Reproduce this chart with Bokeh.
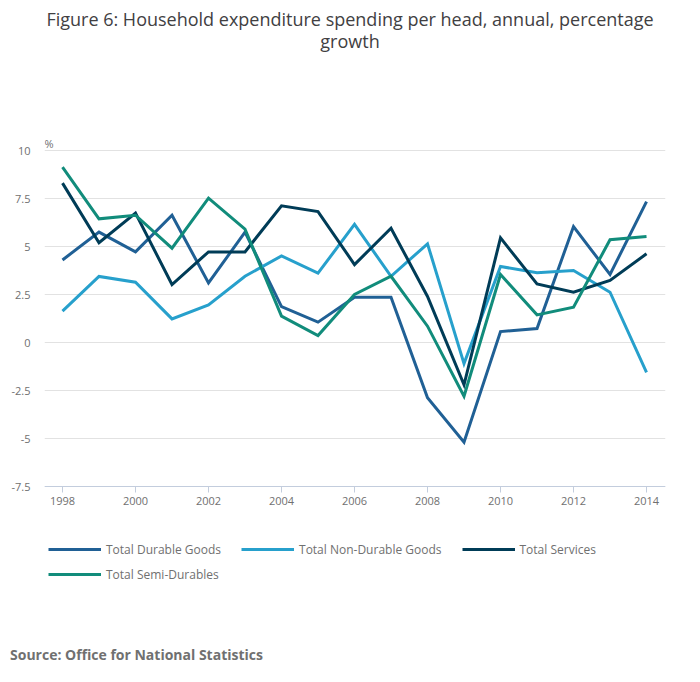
from bokeh.plotting import figure
from bokeh.models import (Range1d, FixedTicker, Legend, LegendItem, Label, Div)
from bokeh.layouts import column
from bokeh.embed import file_html
from bokeh.resources import INLINE

years = list(range(1998, 2015))
durable = [4.3, 5.75, 4.72, 6.63, 3.1, 5.75, 1.87, 1.06, 2.36, 2.36, -2.88, -5.19, 0.57, 0.73, 6.04, 3.54, 7.34]
non_durable = [1.63, 3.44, 3.14, 1.23, 1.96, 3.45, 4.51, 3.61, 6.15, 3.45, 5.14, -1.1, 3.96, 3.63, 3.75, 2.62, -1.55]
services = [8.3, 5.2, 6.74, 3.02, 4.72, 4.72, 7.12, 6.82, 4.06, 5.95, 2.4, -2.2, 5.45, 3.05, 2.62, 3.23, 4.62]
semi_durables = [9.13, 6.44, 6.63, 4.91, 7.52, 5.9, 1.37, 0.36, 2.5, 3.45, 0.85, -2.8, 3.54, 1.44, 1.84, 5.35, 5.52]

series_names = ["Total Durable Goods", "Total Non-Durable Goods", "Total Services", "Total Semi-Durables"]
series_colors = ["#206095", "#27a0cc", "#003c57", "#118c7b"]

x_ticks = [1998, 2000, 2002, 2004, 2006, 2008, 2010, 2012, 2014]
y_ticks = [-7.5, -5, -2.5, 0, 2.5, 5, 7.5, 10]
y_tick_labels = ["-7.5", "-5", "-2.5", "0", "2.5", "5", "7.5", "10"]

title_text = "Figure 6: Household expenditure spending per head, annual, percentage growth"
source_text = "Source: Office for National Statistics"
unit_text = "%"

FONT = "Open Sans"
GREY = "#707070"
W = 684

title_div = Div(text=title_text, width=W, height=132, margin=0,
                styles={"font-family": FONT, "font-size": "18px", "color": "#414042",
                        "text-align": "center", "line-height": "22px",
                        "padding-top": "8px", "padding-left": "40px", "padding-right": "24px",
                        "box-sizing": "border-box"})

# frame: page y 132..600, x 44..665 ; value 10 at y=150, -7.5 at y=486
Y_MIN = -7.5
Y_MAX = 10
p = figure(width=W, height=508, output_backend="svg", toolbar_location=None,
           x_range=Range1d(1997.507, 2014.52), y_range=Range1d(-13.4375, 10.9375),
           min_border_left=44, min_border_right=19, min_border_top=0, min_border_bottom=40)
p.outline_line_color = None
p.background_fill_color = "white"
p.border_fill_color = "white"

p.xgrid.visible = False
p.ygrid.grid_line_color = "#e2e2e2"
p.ygrid.grid_line_width = 1

p.yaxis.ticker = FixedTicker(ticks=y_ticks)
p.yaxis.major_label_overrides = {t: l for t, l in zip(y_ticks, y_tick_labels)}
p.yaxis.axis_line_color = None
p.yaxis.major_tick_line_color = None
p.yaxis.minor_tick_line_color = None
p.yaxis.major_tick_out = 0
p.yaxis.major_tick_in = 0
p.yaxis.major_label_standoff = 14
p.yaxis.major_label_text_font = FONT
p.yaxis.major_label_text_font_size = "11px"
p.yaxis.major_label_text_color = GREY

p.xaxis.ticker = FixedTicker(ticks=x_ticks)
p.xaxis.fixed_location = Y_MIN
p.xaxis.axis_line_color = "#c3cddd"
p.xaxis.major_tick_line_color = "#c3cddd"
p.xaxis.major_tick_in = 0
p.xaxis.major_tick_out = 6
p.xaxis.minor_tick_line_color = None
p.xaxis.major_label_standoff = 4
p.xaxis.major_label_text_font = FONT
p.xaxis.major_label_text_font_size = "11px"
p.xaxis.major_label_text_color = GREY

renderers = []
for vals, name, col in zip([durable, non_durable, services, semi_durables], series_names, series_colors):
    r = p.line(years, vals, line_color=col, line_width=3, line_join="miter")
    renderers.append(r)

def mk_legend(idx, loc):
    items = [LegendItem(label=series_names[i], renderers=[renderers[i]]) for i in idx]
    return Legend(items=items, location=loc, orientation="horizontal",
                  margin=0, padding=0, spacing=20, glyph_width=53, glyph_height=20,
                  label_height=20, label_standoff=5,
                  label_text_font=FONT, label_text_font_size="12px", label_text_color=GREY,
                  background_fill_alpha=0, border_line_color=None)

p.add_layout(mk_legend([0, 1, 2], (4, 41)))
p.add_layout(mk_legend([3], (4, 16)))

p.add_layout(Label(x=1997.507, y=Y_MAX, y_offset=7, text=unit_text,
                   text_align="left", text_baseline="middle", text_font=FONT,
                   text_font_size="11px", text_color=GREY))

source_div = Div(text=source_text, width=W, height=26, margin=0,
                 styles={"font-family": FONT, "font-size": "14px", "font-weight": "bold",
                         "color": GREY, "line-height": "18px", "padding-top": "6px",
                         "padding-left": "10px", "box-sizing": "border-box"})

layout = column(title_div, p, source_div)
open("out.html", "w").write(file_html(layout, INLINE))
